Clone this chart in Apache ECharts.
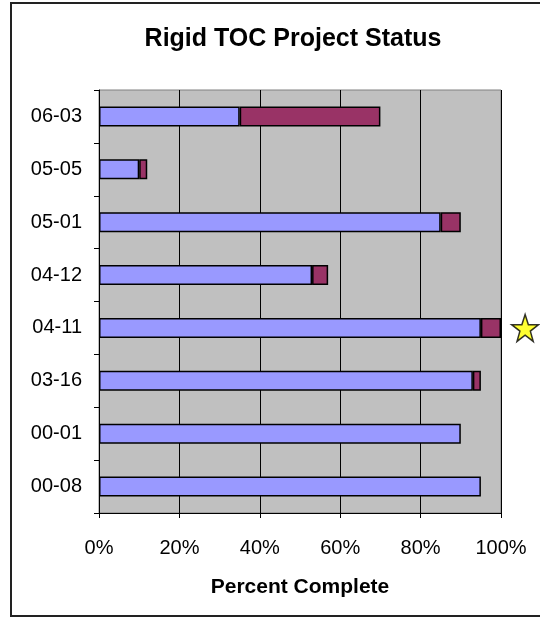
<!DOCTYPE html>
<html>
<head>
<meta charset="utf-8">
<script src="https://cdn.jsdelivr.net/npm/echarts@6/dist/echarts.min.js"></script>
<style>
html,body{margin:0;padding:0;background:#fff;}
#c{width:540px;height:618px;}
</style>
</head>
<body>
<div id="c"></div>
<script>
const categories = ['00-08','00-01','03-16','04-11','04-12','05-01','05-05','06-03'];
const completeValues = [95, 90, 93, 95, 53, 85, 10, 35];
const remainingValues = [null, null, 2, 5, 4, 5, 2, 35];
const starPoints = [[106, '04-11']];
const xTicks = [0, 20, 40, 60, 80, 100];

const FONT = 'Liberation Sans, Arial, sans-serif';
const chart = echarts.init(document.getElementById('c'), null, {renderer:'canvas'});
chart.setOption({
  animation: false,
  backgroundColor: '#ffffff',
  graphic: [{
    type: 'rect',
    shape: {x: 11, y: 3, width: 540, height: 613},
    style: {fill: 'none', stroke: '#222', lineWidth: 2},
    silent: true, z: 100
  }],
  title: {
    text: 'Rigid TOC Project Status',
    left: 288, top: 22, textAlign: 'center',
    textStyle: {fontFamily: FONT, fontSize: 25, fontWeight: 'bold', color: '#000'}
  },
  grid: {
    left: 99, right: 39, top: 90, bottom: 105,
    show: true, backgroundColor: '#c0c0c0', borderColor: '#808080', borderWidth: 1
  },
  xAxis: {
    type: 'value', min: 0, max: 100, interval: 20,
    name: 'Percent Complete', nameLocation: 'middle', nameGap: 64,
    nameTextStyle: {fontFamily: FONT, fontSize: 21, fontWeight: 'bold', color: '#000'},
    axisLine: {show: true, lineStyle: {color: '#000', width: 1}},
    axisTick: {show: true, length: 5, lineStyle: {color: '#000'}},
    axisLabel: {
      margin: 25, fontSize: 20, color: '#000', fontFamily: FONT,
      formatter: v => xTicks.includes(v) ? v + '%' : ''
    },
    splitLine: {show: true, lineStyle: {color: '#000', width: 1}}
  },
  yAxis: {
    type: 'category', data: categories,
    axisLine: {show: true, lineStyle: {color: '#000', width: 1}},
    axisTick: {show: true, length: 5, lineStyle: {color: '#000'}},
    axisLabel: {margin: 17, fontSize: 20, color: '#000', fontFamily: FONT},
    splitLine: {show: false}
  },
  series: [
    {
      type: 'bar', stack: 's', data: completeValues, barWidth: 20,
      itemStyle: {color: '#9999ff', borderColor: '#000', borderWidth: 1.5}
    },
    {
      type: 'bar', stack: 's', data: remainingValues, barWidth: 20,
      itemStyle: {color: '#993366', borderColor: '#000', borderWidth: 1.5}
    },
    {
      type: 'scatter', data: starPoints, clip: false,
      symbol: 'path://M50,0 L61.8,35.1 L98.9,35.1 L68.9,57.3 L79.4,92.7 L50,71 L20.6,92.7 L31.1,57.3 L1.1,35.1 L38.2,35.1 Z',
      symbolSize: 27,
      itemStyle: {color: '#ffff00', borderColor: '#000', borderWidth: 1.5}
    }
  ]
});
</script>
</body>
</html>
